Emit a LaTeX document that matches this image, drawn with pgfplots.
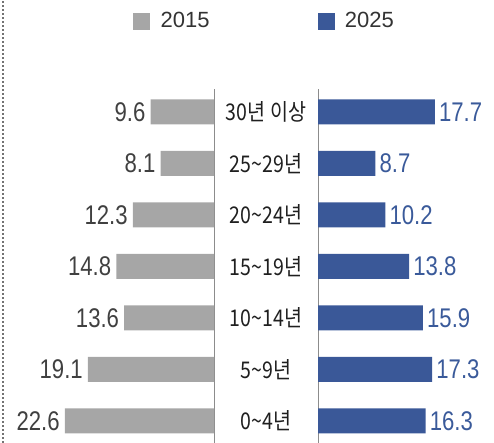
\documentclass[border=0pt]{standalone}
\usepackage{pgfplots}
\pgfplotsset{compat=1.18}
\usepackage{pgfplotstable}
\usepackage{fontspec}
\setmainfont{Liberation Sans}
\newfontfamily\kr[FakeStretch=0.85]{Noto Sans CJK KR}
\newfontfamily\num[FakeStretch=0.82]{Liberation Sans}
\definecolor{bargray}{HTML}{A6A6A6}
\definecolor{barblue}{HTML}{3A5898}
\definecolor{numgray}{HTML}{404040}
\definecolor{numblue}{HTML}{3A5A9A}
\definecolor{linegray}{HTML}{8C8C8C}
\definecolor{txtgray}{HTML}{333333}
\pgfplotstableread{
cat v2015 v2025
0 22.6 16.3
1 19.1 17.3
2 13.6 15.9
3 14.8 13.8
4 12.3 10.2
5 8.1 8.7
6 9.6 17.7
}\data
\begin{document}
\begin{tikzpicture}[x=1pt,y=1pt]
\useasboundingbox (0,0) rectangle (494,443);
% dotted line at left
\draw[black!55, line width=1.6pt, dash pattern=on 1.6pt off 2.4pt] (3,0) -- (3,443);
% center separators
\draw[linegray, line width=0.8pt] (214,0) -- (214,354);
\draw[linegray, line width=0.8pt] (318,0) -- (318,354);
% left axis: 2015
\begin{axis}[
  at={(214pt,22pt)}, anchor=origin,
  scale only axis, width=165pt, height=360.5pt,
  xbar, bar width=25pt,
  x dir=reverse, xmin=0, xmax=25,
  ymin=-0.5, ymax=6.5,
  axis line style={draw=none}, ticks=none,
  clip=false,
  point meta=explicit symbolic,
  nodes near coords,
  every node near coord/.append style={anchor=east, inner sep=0pt, xshift=-5pt,
    font=\num\fontsize{27}{27}\selectfont, text=numgray},
]
\addplot[fill=bargray, draw=none] table[x=v2015, y=cat, meta=v2015] {\data};
\end{axis}
% right axis: 2025
\begin{axis}[
  at={(318pt,22pt)}, anchor=origin,
  scale only axis, width=165pt, height=360.5pt,
  xbar, bar width=25pt,
  xmin=0, xmax=25,
  ymin=-0.5, ymax=6.5,
  axis line style={draw=none}, xtick=\empty,
  ytick={0,...,6},
  yticklabels={0\textasciitilde4년, 5\textasciitilde9년, 10\textasciitilde14년, 15\textasciitilde19년, 20\textasciitilde24년, 25\textasciitilde29년, 30년 이상},
  major tick length=0pt,
  yticklabel style={anchor=center, xshift=-52pt, inner sep=0pt, font=\kr\fontsize{23}{23}\selectfont, text=black!88},
  clip=false,
  point meta=explicit symbolic,
  nodes near coords,
  every node near coord/.append style={anchor=west, inner sep=0pt, xshift=4pt,
    font=\num\fontsize{27}{27}\selectfont, text=numblue},
]
\addplot[fill=barblue, draw=none] table[x=v2025, y=cat, meta=v2025] {\data};
\end{axis}
% legend axis
\begin{axis}[
  at={(0pt,0pt)}, anchor=south west,
  scale only axis, width=494pt, height=443pt,
  xmin=0, xmax=494, ymin=0, ymax=443,
  hide axis,
  legend columns=2,
  legend image code/.code={\fill[#1] (0pt,-8pt) rectangle (16pt,8pt);},
  legend style={at={(axis cs:133,422)}, anchor=west, draw=none, fill=none,
    inner sep=0pt, font=\fontsize{22}{22}\selectfont, text=txtgray,
    nodes={inner sep=0pt},
    /tikz/every odd column/.append style={column sep=11pt},
    /tikz/every even column/.append style={column sep=108pt}},
]
\addlegendimage{bargray}
\addlegendentry{2015}
\addlegendimage{barblue}
\addlegendentry{2025}
\end{axis}
\end{tikzpicture}
\end{document}
